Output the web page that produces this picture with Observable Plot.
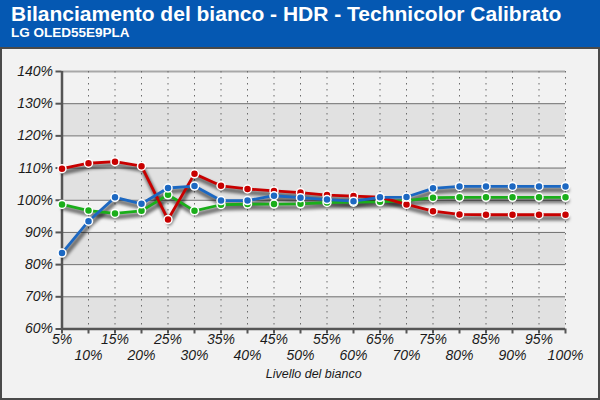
<!DOCTYPE html>
<html>
<head>
<meta charset="utf-8">
<script src="https://cdn.jsdelivr.net/npm/d3@7"></script>
<script src="https://cdn.jsdelivr.net/npm/@observablehq/plot@0.6"></script>
<style>
  html, body { margin: 0; padding: 0; background: #f2f2f2; }
  #wrap { position: relative; width: 600px; height: 400px; overflow: hidden; font-family: "Liberation Sans", Arial, sans-serif; }
  #head { position: absolute; left: 0; top: 0; width: 600px; height: 47px; background: #0558b2; color: #fff; }
  #title { position: absolute; left: 11px; top: 2px; font-size: 21px; font-weight: bold; white-space: nowrap; }
  #subtitle { position: absolute; left: 11px; top: 25px; font-size: 13.5px; font-weight: bold; white-space: nowrap; }
  #chart { position: absolute; left: 0; top: 47px; width: 600px; height: 353px; box-sizing: border-box; border: 2px solid #4a4a4a; background: #f2f2f2; }
  #chart svg { display: block; }
  #chart svg text { font-style: italic; }
</style>
</head>
<body>
<div id="wrap">
  <div id="head">
    <div id="title">Bilanciamento del bianco - HDR - Technicolor Calibrato</div>
    <div id="subtitle">LG OLED55E9PLA</div>
  </div>
  <div id="chart"></div>
</div>
<script>
const levels = [5, 10, 15, 20, 25, 30, 35, 40, 45, 50, 55, 60, 65, 70, 75, 80, 85, 90, 95, 100];
const red   = [109.8, 111.5, 112.0, 110.6, 94.0, 108.2, 104.5, 103.5, 102.9, 102.4, 101.6, 101.3, 101.0, 98.7, 96.6, 95.6, 95.5, 95.5, 95.5, 95.5];
const green = [98.7, 96.8, 95.9, 96.7, 101.7, 96.7, 98.6, 98.8, 98.8, 98.9, 99.3, 99.4, 99.5, 99.9, 100.8, 100.9, 100.9, 100.9, 100.9, 100.9];
const blue  = [83.6, 93.5, 100.9, 98.9, 103.8, 104.4, 99.9, 99.9, 101.4, 100.8, 100.2, 99.7, 100.9, 101.0, 103.7, 104.3, 104.3, 104.3, 104.3, 104.3];
const seriesNames = ["Verde", "Rosso", "Blu"];
const seriesColors = ["#1aae1a", "#c80000", "#1c68c2"];
const seriesValues = [green, red, blue];
const yTicks = [60, 70, 80, 90, 100, 110, 120, 130, 140];
const xTicks = levels;
const xTicksOdd = [5, 15, 25, 35, 45, 55, 65, 75, 85, 95];
const xTicksEven = [10, 20, 30, 40, 50, 60, 70, 80, 90, 100];
const bands = [[60, 70], [80, 90], [100, 110], [120, 130]];
const xTitle = "Livello del bianco";

const series = seriesNames.map((name, i) => ({
  name,
  color: seriesColors[i],
  rows: levels.map((l, j) => ({level: l, value: seriesValues[i][j]}))
}));

const axisColor = "#555";
const textColor = "#1a1a1a";

const marks = [
  Plot.rect(bands, {y1: d => d[0], y2: d => d[1], fill: "#e1e1e1"}),
  Plot.ruleY(yTicks.slice(1, -1), {stroke: "#707070", strokeWidth: 1}),
  Plot.ruleY([yTicks[yTicks.length - 1]], {stroke: "#a8a8a8", strokeWidth: 2}),
  Plot.ruleX(xTicks.slice(1), {stroke: "#6a6a6a", strokeWidth: 1, strokeDasharray: "1.5,4.5"}),
  Plot.ruleX([levels[0]], {stroke: axisColor, strokeWidth: 2.5}),
  Plot.ruleY([yTicks[0]], {stroke: axisColor, strokeWidth: 2.5}),
  Plot.axisY(yTicks, {tickSize: 6, tickPadding: 3, tickFormat: d => d + "%", stroke: axisColor, strokeWidth: 2, fill: textColor, fontSize: 14, label: null}),
  Plot.axisX(xTicks, {tickSize: 5, tickFormat: () => "", stroke: axisColor, strokeWidth: 2, label: null}),
  Plot.text(xTicksOdd, {x: d => d, frameAnchor: "bottom", dy: 14.7, text: d => d + "%", fill: textColor, fontSize: 14}),
  Plot.text(xTicksEven, {x: d => d, frameAnchor: "bottom", dy: 30.7, text: d => d + "%", fill: textColor, fontSize: 14}),
  Plot.text([xTitle], {frameAnchor: "bottom", dy: 48.5, text: d => d, fill: textColor, fontSize: 12.5})
];

// shadows
for (const s of series) {
  marks.push(Plot.line(s.rows, {x: "level", y: "value", stroke: "#000", strokeOpacity: 0.5, strokeWidth: 5, dx: 1.5, dy: 3.5, ariaDescription: "shadow"}));
}
for (const s of series) {
  marks.push(Plot.line(s.rows, {x: "level", y: "value", stroke: s.color, strokeWidth: 2.8}));
  marks.push(Plot.dot(s.rows, {x: "level", y: "value", r: 4, fill: s.color, stroke: "#fff", strokeWidth: 1.5}));
}

const chart = Plot.plot({
  width: 596,
  height: 349,
  marginLeft: 59.5,
  marginRight: 33,
  marginTop: 22,
  marginBottom: 69.5,
  x: {domain: [levels[0], levels[levels.length - 1]], axis: null},
  y: {domain: [yTicks[0], yTicks[yTicks.length - 1]], axis: null},
  style: {background: "transparent", fontFamily: "'Liberation Sans', Arial, sans-serif", overflow: "visible"},
  marks
});

const ns = "http://www.w3.org/2000/svg";
const defs = document.createElementNS(ns, "defs");
const filter = document.createElementNS(ns, "filter");
filter.setAttribute("id", "shadowBlur");
filter.setAttribute("x", "-10%"); filter.setAttribute("y", "-30%");
filter.setAttribute("width", "120%"); filter.setAttribute("height", "160%");
const blur = document.createElementNS(ns, "feGaussianBlur");
blur.setAttribute("stdDeviation", "1.8");
filter.appendChild(blur);
defs.appendChild(filter);
chart.insertBefore(defs, chart.firstChild);
chart.querySelectorAll('[aria-description="shadow"]').forEach(g => g.setAttribute("filter", "url(#shadowBlur)"));

document.getElementById("chart").appendChild(chart);
</script>
</body>
</html>
